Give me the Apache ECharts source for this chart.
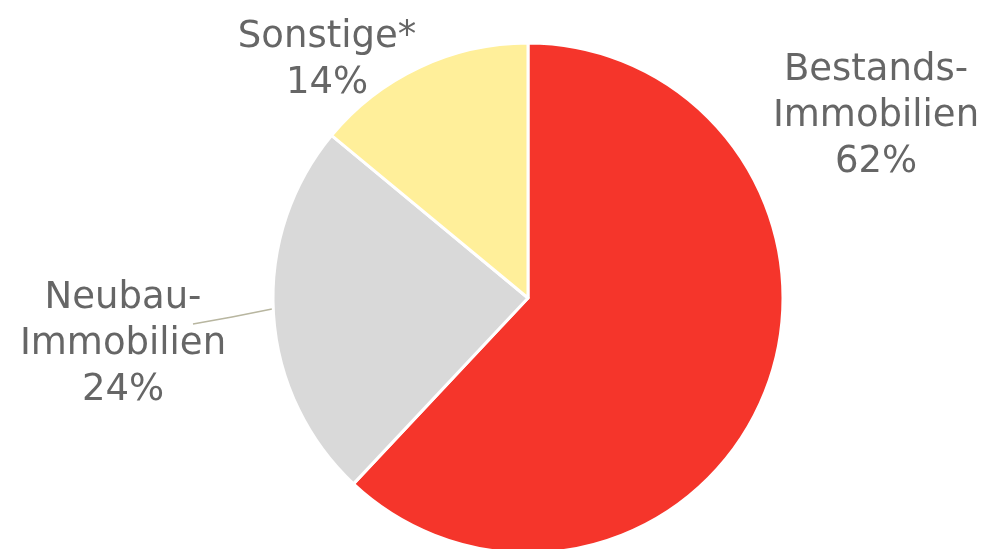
<!DOCTYPE html>
<html>
<head>
<meta charset="utf-8">
<script src="https://cdn.jsdelivr.net/npm/echarts@6/dist/echarts.min.js"></script>
<style>
  html, body { margin: 0; padding: 0; background: #fff; }
  #chart { width: 993px; height: 549px; }
</style>
</head>
<body>
<div id="chart"></div>
<script>
var categories = ['Bestands-\nImmobilien', 'Neubau-\nImmobilien', 'Sonstige*'];
var shares = [62, 24, 14];
var colors = ['#F5352B', '#D9D9D9', '#FFEF9A'];

// where each label block sits (centre of the text block)
var labelPos = [[876, 116], [123, 344], [327, 60]];

var chart = echarts.init(document.getElementById('chart'));

var data = categories.map(function (c, i) {
    return {
        name: c,
        value: shares[i],
        itemStyle: { color: colors[i] },
        labelLine: { show: i === 1 }
    };
});

var option = {
    animation: false,
    series: [{
        type: 'pie',
        center: [528, 298],
        radius: 255,
        startAngle: 90,
        clockwise: true,
        data: data,
        itemStyle: {
            borderColor: '#fff',
            borderWidth: 3
        },
        label: {
            show: true,
            position: 'outside',
            alignTo: 'none',
            overflow: 'none',
            formatter: function (p) { return p.name + '\n' + p.value + '%'; },
            color: '#666666',
            fontFamily: 'DejaVu Sans',
            fontSize: 37,
            lineHeight: 46,
            align: 'center'
        },
        labelLine: {
            show: false,
            lineStyle: { color: '#B8B6A0', width: 1.5 }
        },
        labelLayout: function (p) {
            var pos = labelPos[p.dataIndex];
            var out = {
                x: pos[0],
                y: pos[1],
                align: 'center',
                verticalAlign: 'middle',
                width: 300
            };
            if (p.dataIndex === 1) {
                out.labelLinePoints = [[272, 309], [232, 317], [193, 324]];
            }
            return out;
        }
    }]
};
chart.setOption(option);
</script>
</body>
</html>
